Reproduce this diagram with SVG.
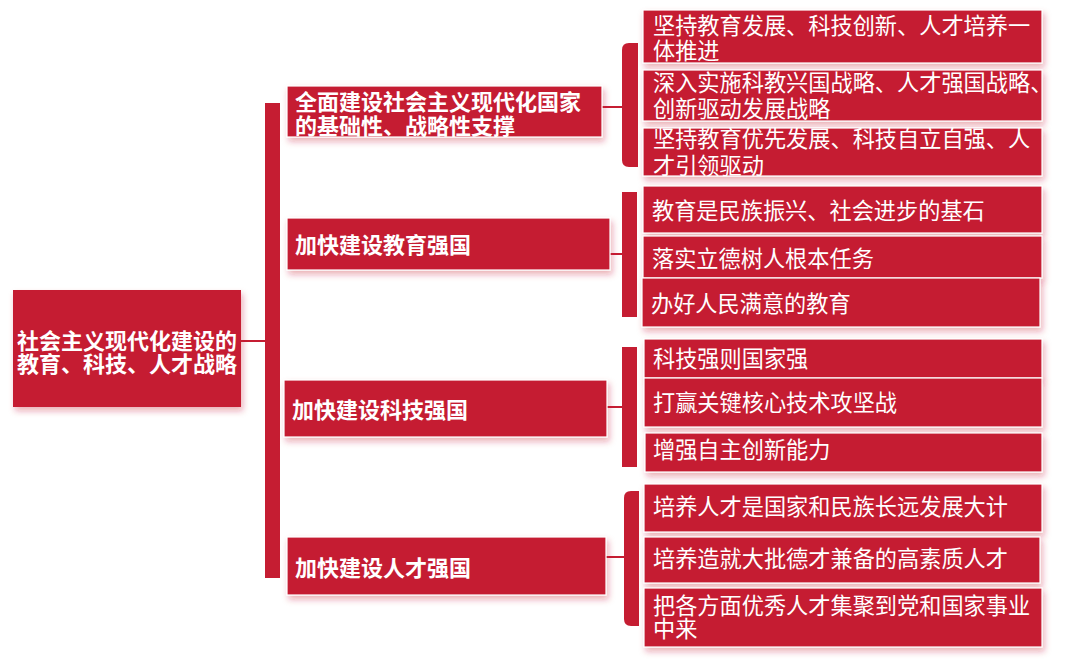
<svg xmlns="http://www.w3.org/2000/svg" width="1091" height="661" viewBox="0 0 1091 661">
<defs>
<filter id="sh" x="-10%" y="-20%" width="120%" height="150%">
<feDropShadow dx="2" dy="4" stdDeviation="3" flood-color="#c51d32" flood-opacity="0.35"/>
</filter>
<style>
.box{fill:#c51d32;stroke:#ffffff;stroke-width:1.2;filter:url(#sh)}
.root{fill:#c51d32;filter:url(#sh)}
.t{fill:#ffffff;font-family:"Noto Sans CJK SC","Noto Sans",sans-serif;dominant-baseline:central}
.b{font-weight:bold}
.r{font-size:22px}
.l1{font-size:22px}
.lf{font-size:22.2px}
.br{fill:#c51d32}
.cn{stroke:#c51d32;stroke-width:2;fill:none}
</style>
</defs>
<rect width="1091" height="661" fill="#ffffff"/>
<g id="connectors">
<line class="cn" x1="241" y1="341" x2="266" y2="341"/>
<rect class="br" x="265" y="103" width="15" height="475"/>
<line class="cn" x1="602" y1="107" x2="623" y2="107"/>
<path class="br" d="M638,43 L629,43 Q622,43 622,50 L622,160 Q622,167 629,167 L638,167 Z"/>
<line class="cn" x1="610" y1="254" x2="623" y2="254"/>
<rect class="br" x="622" y="192" width="15" height="125"/>
<line class="cn" x1="607" y1="407" x2="623" y2="407"/>
<rect class="br" x="622" y="347" width="15" height="120"/>
<line class="cn" x1="606" y1="557" x2="625" y2="557"/>
<path class="br" d="M639,491 L631,491 Q624,491 624,498 L624,619 Q624,626 631,626 L639,626 Z"/>
</g>
<g id="root">
<rect class="root" x="13" y="290" width="228" height="117"/>
<text class="t b r" x="127" y="339" text-anchor="middle">社会主义现代化建设的</text>
<text class="t b r" x="127" y="362" text-anchor="middle">教育、科技、人才战略</text>
</g>
<g id="n1">
<rect class="box" x="287" y="86" width="315" height="51"/>
<text class="t b l1" x="295" y="100">全面建设社会主义现代化国家</text>
<text class="t b l1" x="295" y="124">的基础性、战略性支撑</text>
</g>
<g id="n2">
<rect class="box" x="287" y="218" width="323" height="52"/>
<text class="t b l1" x="295" y="243">加快建设教育强国</text>
</g>
<g id="n3">
<rect class="box" x="284" y="380" width="323" height="57"/>
<text class="t b l1" x="292" y="408">加快建设科技强国</text>
</g>
<g id="n4">
<rect class="box" x="287" y="537" width="319" height="58"/>
<text class="t b l1" x="295" y="566">加快建设人才强国</text>
</g>
<g id="leaf1a">
<rect class="box" x="643" y="10" width="399" height="53"/>
<text class="t lf" x="653" y="24">坚持教育发展、科技创新、人才培养一</text>
<text class="t lf" x="653" y="49">体推进</text>
</g>
<g id="leaf1b">
<rect class="box" x="643" y="70" width="399" height="51"/>
<text class="t lf" x="653" y="81">深入实施科教兴国战略、人才强国战略、</text>
<text class="t lf" x="653" y="107">创新驱动发展战略</text>
</g>
<g id="leaf1c">
<rect class="box" x="643" y="128" width="399" height="48"/>
<text class="t lf" x="653" y="137">坚持教育优先发展、科技自立自强、人</text>
<text class="t lf" x="653" y="164">才引领驱动</text>
</g>
<g id="leaf2a">
<rect class="box" x="643" y="186" width="399" height="47"/>
<text class="t lf" x="652" y="209">教育是民族振兴、社会进步的基石</text>
</g>
<g id="leaf2b">
<rect class="box" x="643" y="236" width="399" height="42"/>
<text class="t lf" x="652" y="257">落实立德树人根本任务</text>
</g>
<g id="leaf2c">
<rect class="box" x="642" y="278" width="398" height="49"/>
<text class="t lf" x="651" y="302">办好人民满意的教育</text>
</g>
<g id="leaf3a">
<rect class="box" x="644" y="339" width="398" height="39"/>
<text class="t lf" x="653" y="357">科技强则国家强</text>
</g>
<g id="leaf3b">
<rect class="box" x="644" y="378" width="398" height="49"/>
<text class="t lf" x="653" y="401">打赢关键核心技术攻坚战</text>
</g>
<g id="leaf3c">
<rect class="box" x="645" y="433" width="397" height="39"/>
<text class="t lf" x="653" y="448">增强自主创新能力</text>
</g>
<g id="leaf4a">
<rect class="box" x="644" y="484" width="398" height="48"/>
<text class="t lf" x="653" y="505">培养人才是国家和民族长远发展大计</text>
</g>
<g id="leaf4b">
<rect class="box" x="644" y="537" width="396" height="46"/>
<text class="t lf" x="653" y="557">培养造就大批德才兼备的高素质人才</text>
</g>
<g id="leaf4c">
<rect class="box" x="644" y="588" width="398" height="59"/>
<text class="t lf" x="653" y="604">把各方面优秀人才集聚到党和国家事业</text>
<text class="t lf" x="653" y="627">中来</text>
</g>
</svg>
